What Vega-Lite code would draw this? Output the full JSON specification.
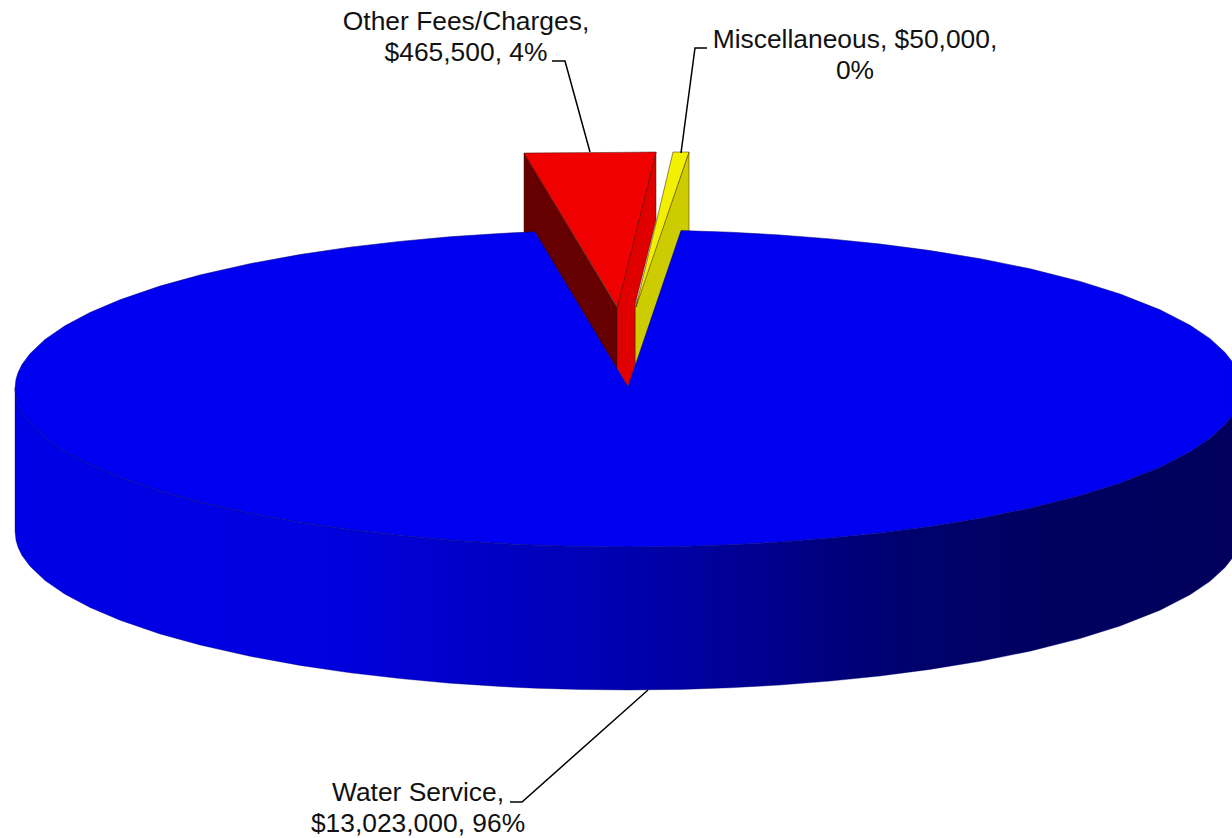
{
"$schema":"https://vega.github.io/schema/vega-lite/v6.json",
"width":1232,"height":838,"padding":0,
"autosize":{"type":"none"},
"background":"white",
"config":{"view":{"stroke":null}},
"datasets":{
"wall":[
{"x":15,"y":388.5,"y2":531.5},{"x":16,"y":397.6,"y2":540.6},{"x":18,"y":404.2,"y2":547.2},{"x":22,"y":412.4,"y2":555.4},{"x":30,"y":423.3,"y2":566.3},{"x":45,"y":437.5,"y2":580.5},{"x":65,"y":451.2,"y2":594.2},{"x":90,"y":464.5,"y2":607.5},{"x":120,"y":477.2,"y2":620.2},{"x":160,"y":490.9,"y2":633.9},{"x":200,"y":502,"y2":645},{"x":250,"y":513.3,"y2":656.3},{"x":300,"y":522.4,"y2":665.4},{"x":350,"y":529.8,"y2":672.8},{"x":400,"y":535.6,"y2":678.6},{"x":450,"y":540.2,"y2":683.2},{"x":500,"y":543.5,"y2":686.5},{"x":535,"y":545.2,"y2":688.2},{"x":580,"y":546.5,"y2":689.5},{"x":628,"y":547,"y2":690},{"x":681,"y":546.4,"y2":689.4},{"x":730,"y":544.8,"y2":687.8},{"x":780,"y":542,"y2":685},{"x":830,"y":538.1,"y2":681.1},{"x":880,"y":533,"y2":676},{"x":930,"y":526.4,"y2":669.4},{"x":980,"y":518.3,"y2":661.3},{"x":1030,"y":508.2,"y2":651.2},{"x":1080,"y":495.6,"y2":638.6},{"x":1120,"y":483,"y2":626},{"x":1160,"y":467.2,"y2":610.2},{"x":1190,"y":451.8,"y2":594.8},{"x":1210,"y":438.3,"y2":581.3},{"x":1225,"y":424.5,"y2":567.5},{"x":1232,"y":415.6,"y2":558.6}
],
"top":[
{"x":15,"y":388.5,"y2":388.5},{"x":16,"y":379.4,"y2":397.6},{"x":18,"y":372.8,"y2":404.2},{"x":22,"y":364.6,"y2":412.4},{"x":30,"y":353.7,"y2":423.3},{"x":45,"y":339.5,"y2":437.5},{"x":65,"y":325.8,"y2":451.2},{"x":90,"y":312.5,"y2":464.5},{"x":120,"y":299.8,"y2":477.2},{"x":160,"y":286.1,"y2":490.9},{"x":200,"y":275,"y2":502},{"x":250,"y":263.7,"y2":513.3},{"x":300,"y":254.6,"y2":522.4},{"x":350,"y":247.2,"y2":529.8},{"x":400,"y":241.4,"y2":535.6},{"x":450,"y":236.8,"y2":540.2},{"x":500,"y":233.5,"y2":543.5},{"x":535,"y":231.8,"y2":545.2},{"x":580,"y":306.9,"y2":546.5},{"x":628,"y":387,"y2":547},{"x":655,"y":307.3,"y2":546.8},{"x":681,"y":230.6,"y2":546.4},{"x":730,"y":232.2,"y2":544.8},{"x":780,"y":235,"y2":542},{"x":830,"y":238.9,"y2":538.1},{"x":880,"y":244,"y2":533},{"x":930,"y":250.6,"y2":526.4},{"x":980,"y":258.7,"y2":518.3},{"x":1030,"y":268.8,"y2":508.2},{"x":1080,"y":281.4,"y2":495.6},{"x":1120,"y":294,"y2":483},{"x":1160,"y":309.8,"y2":467.2},{"x":1190,"y":325.2,"y2":451.8},{"x":1210,"y":338.7,"y2":438.3},{"x":1225,"y":352.5,"y2":424.5},{"x":1232,"y":361.4,"y2":415.6}
],
"wedges":[
{"part":"Miscellaneous wall","x":635,"y":307,"y2":366},{"part":"Miscellaneous wall","x":689,"y":152,"y2":240},
{"part":"Miscellaneous top","x":636,"y":307,"y2":307},{"part":"Miscellaneous top","x":673,"y":152,"y2":198.8},{"part":"Miscellaneous top","x":689,"y":152,"y2":152},
{"part":"Other wall left","x":524,"y":153,"y2":240},{"part":"Other wall left","x":617,"y":307,"y2":369},
{"part":"Other wall right","x":617,"y":307,"y2":368},{"part":"Other wall right","x":628,"y":263.3,"y2":387},{"part":"Other wall right","x":634.9,"y":235.5,"y2":366},{"part":"Other wall right","x":635,"y":235.5,"y2":305},{"part":"Other wall right","x":656,"y":152,"y2":220},
{"part":"Other top","x":524,"y":153,"y2":153},{"part":"Other top","x":617.5,"y":152.4,"y2":307},{"part":"Other top","x":656,"y":152,"y2":152}
],
"leaders":[
{"slice":"Other","x":552,"y":61,"step":1},{"slice":"Other","x":565,"y":61,"step":2},{"slice":"Other","x":590,"y":152,"step":3},
{"slice":"Misc","x":707,"y":48,"step":1},{"slice":"Misc","x":695,"y":48,"step":2},{"slice":"Misc","x":681,"y":153,"step":3},
{"slice":"Water","x":510,"y":802,"step":1},{"slice":"Water","x":522,"y":802,"step":2},{"slice":"Water","x":648,"y":690,"step":3}
],
"labels":[
{"text":"Other Fees/Charges,","x":466,"y":22},
{"text":"$465,500, 4%","x":466,"y":53},
{"text":"Miscellaneous, $50,000,","x":855,"y":40},
{"text":"0%","x":855,"y":71},
{"text":"Water Service,","x":418,"y":793},
{"text":"$13,023,000, 96%","x":418,"y":824}
]
},
"layer":[
{"data":{"name":"wedges"},
 "mark":{"type":"area","stroke":"#3a1000","strokeWidth":0.7,"strokeOpacity":0.7},
 "encoding":{
  "x":{"field":"x","type":"quantitative","axis":null,"scale":{"domain":[0,1232]}},
  "y":{"field":"y","type":"quantitative","axis":null,"scale":{"domain":[838,0]}},
  "y2":{"field":"y2"},
  "color":{"field":"part","type":"nominal","legend":null,"sort":null,"scale":{"domain":["Miscellaneous wall","Miscellaneous top","Other wall left","Other wall right","Other top"],"range":["#cccc00","#f0f000","#660000","#e00000","#f00000"]}}
 }},
{"data":{"name":"wall"},
 "mark":{"type":"area","stroke":"#000070","strokeWidth":0.6,"strokeOpacity":0.6,"fill":{"x1":0,"y1":0,"x2":1,"y2":0,"gradient":"linear","stops":[{"offset":0,"color":"#0000e6"},{"offset":0.25,"color":"#0000e0"},{"offset":0.5,"color":"#0000b0"},{"offset":0.72,"color":"#000070"},{"offset":0.85,"color":"#00005f"},{"offset":1,"color":"#00005c"}]}},
 "encoding":{
  "x":{"field":"x","type":"quantitative","axis":null,"scale":{"domain":[0,1232]}},
  "y":{"field":"y","type":"quantitative","axis":null,"scale":{"domain":[838,0]}},
  "y2":{"field":"y2"}
 }},
{"data":{"name":"top"},
 "mark":{"type":"area","fill":"#0000f0","stroke":"#000080","strokeWidth":0.8,"strokeOpacity":0.7},
 "encoding":{
  "x":{"field":"x","type":"quantitative","axis":null,"scale":{"domain":[0,1232]}},
  "y":{"field":"y","type":"quantitative","axis":null,"scale":{"domain":[838,0]}},
  "y2":{"field":"y2"}
 }},
{"data":{"name":"leaders"},
 "mark":{"type":"line","color":"black","strokeWidth":1.5},
 "encoding":{
  "x":{"field":"x","type":"quantitative","axis":null,"scale":{"domain":[0,1232]}},
  "y":{"field":"y","type":"quantitative","axis":null,"scale":{"domain":[838,0]}},
  "detail":{"field":"slice"},
  "order":{"field":"step"}
 }},
{"data":{"name":"labels"},
 "mark":{"type":"text","font":"Liberation Sans","fontSize":26.4,"color":"#111111","align":"center","baseline":"middle"},
 "encoding":{
  "x":{"field":"x","type":"quantitative","axis":null,"scale":{"domain":[0,1232]}},
  "y":{"field":"y","type":"quantitative","axis":null,"scale":{"domain":[838,0]}},
  "text":{"field":"text"}
 }}
]
}
